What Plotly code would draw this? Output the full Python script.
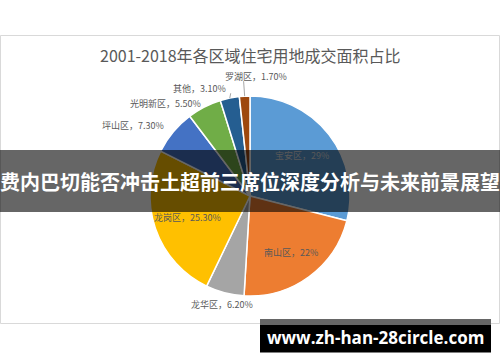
import math
import plotly.graph_objects as go

W, H = 500, 362

labels = ["宝安区", "南山区", "龙华区", "龙岗区", "坪山区", "光明新区", "其他", "罗湖区"]
label_text = ["宝安区，29%", "南山区，22%", "龙华区，6.20%", "龙岗区，25.30%",
              "坪山区，7.30%", "光明新区，5.50%", "其他，3.10%", "罗湖区，1.70%"]
values = [29, 22, 6.2, 25.3, 7.3, 5.5, 3.1, 1.7]
colors = ["#5B9BD5", "#ED7D31", "#A5A5A5", "#FFC000", "#4472C4", "#70AD47", "#255E91", "#9E480E"]

title = "2001-2018年各区域住宅用地成交面积占比"
banner = "费内巴切能否冲击土超前三席位深度分析与未来前景展望"
watermark = "www.zh-han-28circle.com"

# label placement style (radius factor, anchor, horizontal nudge)
label_r = [0.66, 0.7, 1.12, 0.66, 1.1, 1.04, 1.1, 1.2]
label_anchor = ["center", "center", "center", "center", "right", "right", "right", "center"]
label_dx = [0, 0, 0, 0, 0, 0, 0, 12]
leader = [False, False, False, False, False, False, True, True]

CX, CY, R = 250, 196, 100


def px(x):
    return x / W


def py(y):
    return 1 - y / H


fig = go.Figure(go.Pie(
    labels=labels, values=values, sort=False, direction="clockwise", rotation=0,
    marker=dict(colors=colors, line=dict(color="white", width=1.5)),
    textinfo="none", hoverinfo="label+percent", showlegend=False,
    domain=dict(x=[px(CX - R), px(CX + R)], y=[py(CY + R), py(CY - R)]),
))

annotations = []
shapes = []
total = sum(values)
cum = 0
for i, v in enumerate(values):
    mid = (cum + v / 2) / total * 2 * math.pi
    cum += v
    s, c = math.sin(mid), math.cos(mid)
    r = label_r[i] * R
    lx, ly = CX + r * s, CY - r * c
    annotations.append(dict(
        x=px(lx + label_dx[i]), y=py(ly), xref="paper", yref="paper", text=label_text[i],
        showarrow=False, xanchor=label_anchor[i], yanchor="middle",
        font=dict(family="Noto Sans CJK SC", size=9, color="#595959")))
    if leader[i]:
        ex, ey = CX + R * s, CY - R * c
        shapes.append(dict(type="line", xref="paper", yref="paper",
                           x0=px(ex), y0=py(ey), x1=px(lx + (3 if label_anchor[i] == "right" else 0)),
                           y1=py(ly + 5), line=dict(color="#A6A6A6", width=1)))

# chart frame
shapes.insert(0, dict(type="rect", xref="paper", yref="paper", x0=px(0.5), x1=px(499.5),
                      y0=py(323.5), y1=py(35.5), line=dict(color="#D9D9D9", width=1),
                      layer="below"))
# banner
shapes.append(dict(type="rect", xref="paper", yref="paper", x0=0, x1=1, y0=py(212), y1=py(150),
                   fillcolor="rgba(0,0,0,0.6)", line=dict(width=0), layer="above"))
# watermark box
shapes.append(dict(type="rect", xref="paper", yref="paper", x0=px(260), x1=px(491), y0=py(325), y1=py(319),
                   fillcolor="#666666", line=dict(width=0), layer="above"))
shapes.append(dict(type="rect", xref="paper", yref="paper", x0=px(260), x1=px(491), y0=py(352.5), y1=py(325),
                   fillcolor="#000000", line=dict(width=0), layer="above"))

annotations.append(dict(x=px(250), y=py(55), xref="paper", yref="paper", text=title, showarrow=False,
                        xanchor="center", yanchor="middle",
                        font=dict(family="Noto Sans CJK SC", size=16, color="#595959")))
annotations.append(dict(x=px(250), y=py(181), xref="paper", yref="paper", text="<b>" + banner + "</b>",
                        showarrow=False, xanchor="center", yanchor="middle",
                        font=dict(family="Noto Sans CJK SC", size=20, color="white")))
annotations.append(dict(x=px(375.5), y=py(337), xref="paper", yref="paper", text="<b>" + watermark + "</b>",
                        showarrow=False, xanchor="center", yanchor="middle",
                        font=dict(family="Open Sans", size=17, color="white")))

fig.update_layout(width=W, height=H, margin=dict(l=0, r=0, t=0, b=0),
                  paper_bgcolor="white", plot_bgcolor="white",
                  shapes=shapes, annotations=annotations)

fig.write_html("out.html")
